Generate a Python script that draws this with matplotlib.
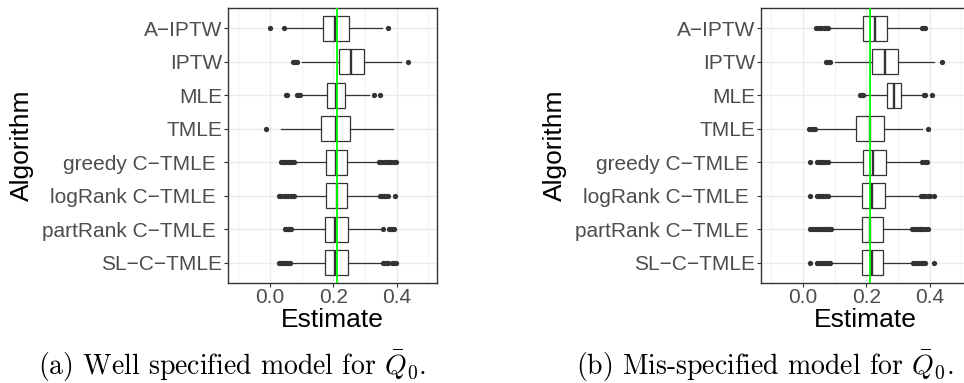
"""
plot.py: two horizontal boxplot panels (well / mis-specified Q0 model),
ggplot theme_bw look, LaTeX-style captions below.
"""

import matplotlib
matplotlib.use("Agg")
import matplotlib.pyplot as plt

plt.rcParams["font.family"] = ["Liberation Sans", "DejaVu Sans"]
plt.rcParams["mathtext.fontset"] = "cm"

# --- data --------------------------------------------------------------
algorithms = ["A\u2212IPTW", "IPTW", "MLE", "TMLE", "greedy C\u2212TMLE ",
              "logRank C\u2212TMLE ", "partRank C\u2212TMLE ", "SL\u2212C\u2212TMLE"]
true_value = 0.2126

# (a) well specified
a_q1 = [0.167, 0.217, 0.181, 0.162, 0.177, 0.177, 0.173, 0.173]
a_med = [0.206, 0.257, 0.208, 0.208, 0.208, 0.211, 0.206, 0.206]
a_q3 = [0.248, 0.298, 0.238, 0.254, 0.244, 0.244, 0.246, 0.247]
a_lo = [0.047, 0.100, 0.100, 0.034, 0.081, 0.080, 0.070, 0.068]
a_hi = [0.353, 0.413, 0.313, 0.387, 0.340, 0.343, 0.356, 0.354]
a_fliers = [
    [0.002, 0.044, 0.371],
    [0.072, 0.079, 0.084, 0.437],
    [0.050, 0.055, 0.085, 0.090, 0.095, 0.329, 0.347],
    [-0.012],
    [0.034, 0.040, 0.046, 0.052, 0.058, 0.064, 0.070, 0.076,
     0.345, 0.352, 0.360, 0.368, 0.375, 0.383, 0.390, 0.397],
    [0.029, 0.036, 0.043, 0.050, 0.058, 0.066, 0.072, 0.076,
     0.347, 0.353, 0.360, 0.366, 0.372, 0.393],
    [0.047, 0.052, 0.057, 0.062, 0.067, 0.358, 0.375, 0.380, 0.385, 0.390],
    [0.029, 0.035, 0.041, 0.047, 0.053, 0.059, 0.065,
     0.356, 0.362, 0.368, 0.374, 0.385, 0.391, 0.397],
]

# (b) mis-specified
b_q1 = [0.189, 0.218, 0.265, 0.167, 0.189, 0.186, 0.186, 0.186]
b_med = [0.226, 0.260, 0.287, 0.211, 0.221, 0.218, 0.213, 0.218]
b_q3 = [0.265, 0.300, 0.311, 0.255, 0.263, 0.260, 0.252, 0.253]
b_lo = [0.081, 0.102, 0.195, 0.040, 0.084, 0.084, 0.093, 0.090]
b_hi = [0.372, 0.413, 0.374, 0.376, 0.374, 0.370, 0.342, 0.344]
b_fliers = [
    [0.042, 0.050, 0.058, 0.066, 0.073, 0.079, 0.376, 0.380, 0.384],
    [0.074, 0.080, 0.087, 0.439],
    [0.181, 0.186, 0.191, 0.381, 0.386, 0.407],
    [0.019, 0.025, 0.031, 0.037, 0.395],
    [0.024, 0.045, 0.052, 0.058, 0.065, 0.071, 0.078, 0.376, 0.384, 0.392],
    [0.024, 0.045, 0.052, 0.058, 0.065, 0.071, 0.078,
     0.374, 0.380, 0.386, 0.394, 0.400, 0.413],
    [0.024, 0.030, 0.036, 0.042, 0.048, 0.054, 0.060, 0.066, 0.072, 0.078,
     0.085, 0.090, 0.344, 0.350, 0.356, 0.362, 0.368, 0.374, 0.380, 0.388, 0.395],
    [0.024, 0.045, 0.051, 0.057, 0.063, 0.069, 0.075, 0.081, 0.087,
     0.347, 0.353, 0.359, 0.365, 0.372, 0.379, 0.386, 0.413],
]

captions = [r"(a) Well specified model for $\bar{Q}_0$.",
            r"(b) Mis-specified model for $\bar{Q}_0$."]

DARK = "#333333"
GRID = "#EBEBEB"


def draw_panel(ax, q1, med, q3, lo, hi, fliers):
    n = len(algorithms)
    pos = list(range(n, 0, -1))  # first algorithm on top
    stats = [dict(q1=q1[i], med=med[i], q3=q3[i], whislo=lo[i], whishi=hi[i],
                  fliers=fliers[i]) for i in range(n)]
    ax.bxp(stats, positions=pos, widths=0.75, orientation="horizontal",
           patch_artist=True, showcaps=False,
           boxprops=dict(facecolor="white", edgecolor=DARK, linewidth=0.9),
           medianprops=dict(color=DARK, linewidth=1.7),
           whiskerprops=dict(color=DARK, linewidth=0.9),
           flierprops=dict(marker="o", markersize=3.8, markerfacecolor=DARK,
                           markeredgecolor="none"),
           zorder=2)
    ax.axvline(true_value, color="#00FF00", linewidth=1.3, zorder=3)

    ax.set_xlim(-0.132, 0.527)
    ax.set_ylim(0.4, n + 0.6)
    ax.set_xticks([0.0, 0.2, 0.4])
    ax.set_xticklabels(["0.0", "0.2", "0.4"])
    ax.set_xticks([-0.1, 0.1, 0.3, 0.5], minor=True)
    ax.set_yticks(pos)
    ax.set_yticklabels(algorithms)

    ax.grid(True, which="major", color=GRID, linewidth=1.0, zorder=0)
    ax.grid(True, which="minor", axis="x", color=GRID, linewidth=0.5, zorder=0)
    ax.set_axisbelow(True)
    ax.tick_params(which="major", length=2.9, width=0.8, color=DARK,
                   labelsize=15, labelcolor="#4D4D4D")
    ax.tick_params(axis="x", pad=1)
    ax.tick_params(axis="y", pad=1.5)
    ax.tick_params(which="minor", length=0)
    for s in ax.spines.values():
        s.set_color(DARK)
        s.set_linewidth(1.0)

    ax.set_xlabel("Estimate", fontsize=19, color="black")
    ax.set_ylabel("Algorithm", fontsize=19, color="black")
    ax.xaxis.set_label_coords(0.5, -0.09)
    ax.yaxis.set_label_coords(-0.93, 0.5)


fig = plt.figure(figsize=(9.64, 3.83), dpi=100)
W, H = 964, 383
ax_a = fig.add_axes([228 / W, (H - 283) / H, 209 / W, 275 / H])
ax_b = fig.add_axes([761 / W, (H - 283) / H, 209 / W, 275 / H])

draw_panel(ax_a, a_q1, a_med, a_q3, a_lo, a_hi, a_fliers)
draw_panel(ax_b, b_q1, b_med, b_q3, b_lo, b_hi, b_fliers)

for cx, cap in zip([232 / W, 765 / W], captions):
    fig.text(cx, (H - 375.5) / H, cap, ha="center", va="baseline",
             fontsize=20, family="cmr10")

fig.savefig("out.png", dpi=100)
